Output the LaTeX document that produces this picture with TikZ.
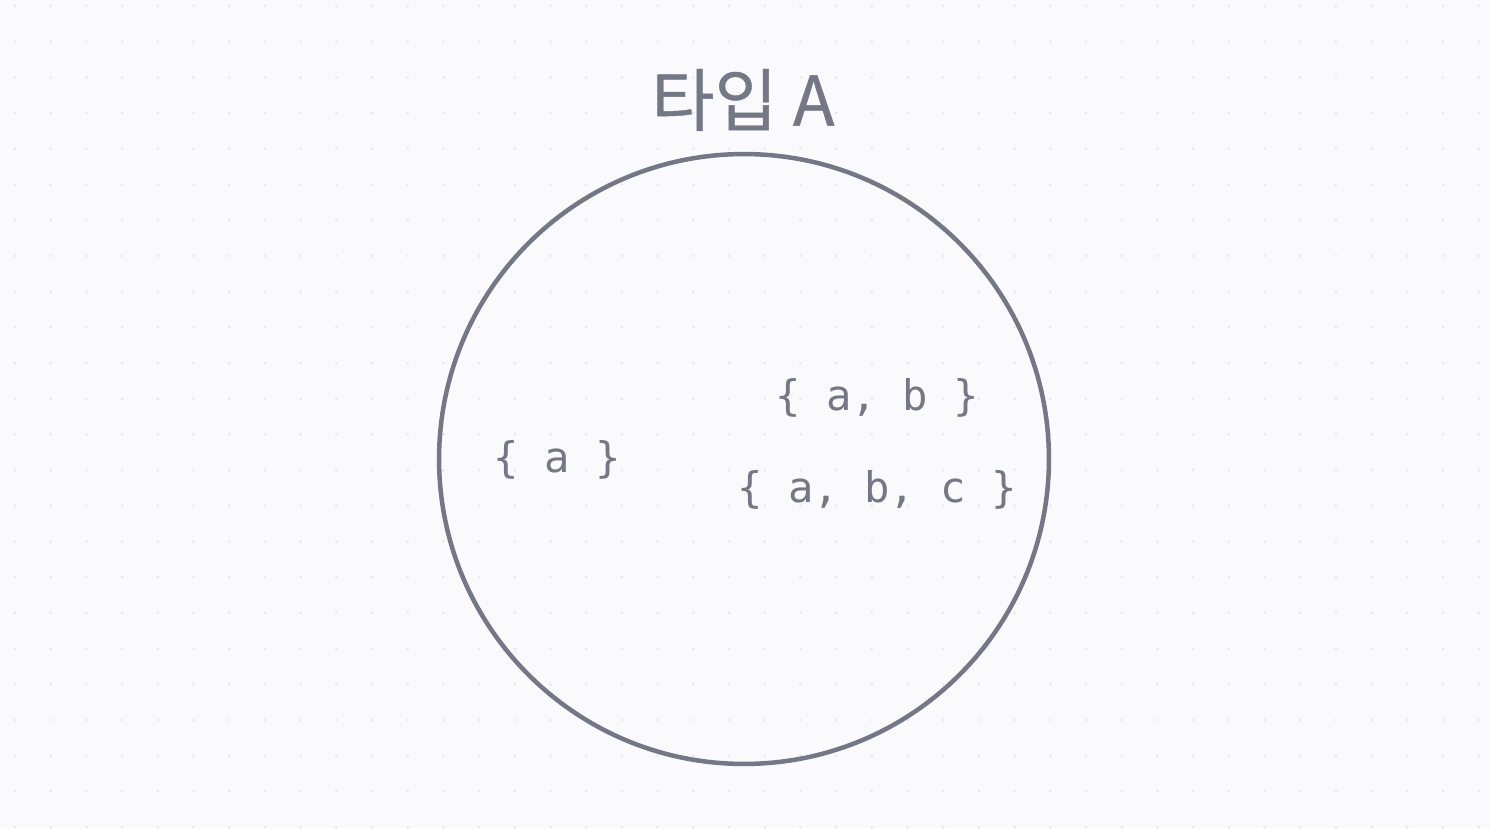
\documentclass[tikz,border=0pt]{standalone}
\usepackage{fontspec}
\newfontfamily\krfont[FakeBold=0.6]{Noto Sans CJK KR}
\setmonofont{DejaVu Sans Mono}
\usetikzlibrary{positioning}

\definecolor{slate}{RGB}{116,120,134}
\definecolor{paper}{RGB}{250,250,252}
\definecolor{griddot}{RGB}{231,232,237}

\tikzset{
  setlabel/.style={text=slate, inner sep=0pt,
                   font=\ttfamily\fontsize{24}{28}\selectfont},
  typelabel/.style={text=slate, inner sep=0pt,
                    font=\krfont\fontsize{39}{44}\selectfont}
}

\begin{document}
\begin{tikzpicture}[x=0.02cm, y=-0.02cm]
  % Background with dot grid
  \fill[paper] (0,0) rectangle (1490,828);
  \useasboundingbox (0,0) rectangle (1490,828);
  \foreach \i in {0,...,41}
    \foreach \j in {0,...,23}
      \fill[griddot] (15+\i*35.7, 6+\j*35.7) circle (1.5);

  % The type as a set
  \node[circle, draw=slate, line width=0.09cm, minimum size=12.2cm,
        inner sep=0pt] (typeA) at (744,459) {};
  \node[typelabel] (title) at (743,100) {타입 A};

  % Values
  \node[setlabel] (one) at (557,460) {\{ a \}};
  \node[setlabel] (two) at (877,398) {\{ a, b \}};
  \node[setlabel, below=1.84cm of two.center, anchor=center] (three)
    {\{ a, b, c \}};
\end{tikzpicture}
\end{document}
